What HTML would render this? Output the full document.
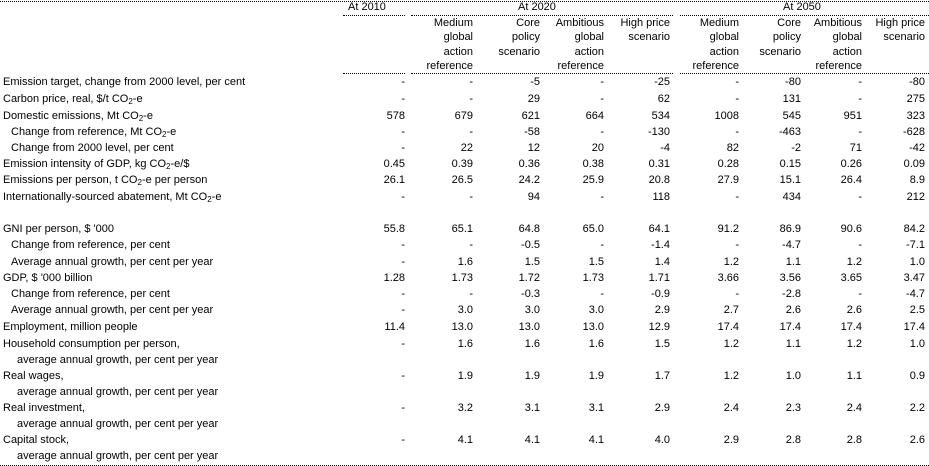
<!DOCTYPE html>
<html><head><meta charset="utf-8"><style>
body{margin:0;background:#fff;}
#w{position:relative;width:929px;height:466px;overflow:hidden;font-family:"Liberation Sans",Arial,sans-serif;font-size:11px;color:#000;}
.r{position:absolute;left:0;width:929px;height:16px;line-height:16px;white-space:nowrap;}
.r span{position:absolute;top:0;}
.l{left:3px}.i{left:11px}.ii{left:17px}
.a{right:524px}.b{right:456px}.c{right:389px}.d{right:325px}.e{right:259px}.f{right:190px}.g{right:128px}.h{right:67px}.k{right:4px}
.dl{position:absolute;height:0;border-top:1px dotted #000;}
sub{font-size:8px;vertical-align:-2px;line-height:0}
</style></head><body><div id="w">
<div class="dl" style="top:1px;left:0;width:929px"></div>
<div class="dl" style="top:15px;left:343px;width:62px"></div>
<div class="dl" style="top:15px;left:411px;width:262px"></div>
<div class="dl" style="top:15px;left:680px;width:249px"></div>
<div class="dl" style="top:73px;left:343px;width:62px"></div>
<div class="dl" style="top:73px;left:411px;width:262px"></div>
<div class="dl" style="top:73px;left:680px;width:249px"></div>
<div class="dl" style="top:465px;left:0;width:929px"></div>

<div class="r" style="top:-1px"><span style="left:348px">At 2010</span><span style="left:518px">At 2020</span><span style="left:783px">At 2050</span></div>
<div class="r" style="top:15px"><span class="b">Medium</span><span class="c">Core</span><span class="d">Ambitious</span><span class="e">High price</span><span class="f">Medium</span><span class="g">Core</span><span class="h">Ambitious</span><span class="k">High price</span></div>
<div class="r" style="top:29px"><span class="b">global</span><span class="c">policy</span><span class="d">global</span><span class="e">scenario</span><span class="f">global</span><span class="g">policy</span><span class="h">global</span><span class="k">scenario</span></div>
<div class="r" style="top:44px"><span class="b">action</span><span class="c">scenario</span><span class="d">action</span><span class="f">action</span><span class="g">scenario</span><span class="h">action</span></div>
<div class="r" style="top:58px"><span class="b">reference</span><span class="d">reference</span><span class="f">reference</span><span class="h">reference</span></div>

<div class="r" style="top:74px"><span class="l">Emission target, change from 2000 level, per cent</span><span class="a">-</span><span class="b">-</span><span class="c">-5</span><span class="d">-</span><span class="e">-25</span><span class="f">-</span><span class="g">-80</span><span class="h">-</span><span class="k">-80</span></div>
<div class="r" style="top:91px"><span class="l">Carbon price, real, $/t CO<sub>2</sub>-e</span><span class="a">-</span><span class="b">-</span><span class="c">29</span><span class="d">-</span><span class="e">62</span><span class="f">-</span><span class="g">131</span><span class="h">-</span><span class="k">275</span></div>
<div class="r" style="top:108px"><span class="l">Domestic emissions, Mt CO<sub>2</sub>-e</span><span class="a">578</span><span class="b">679</span><span class="c">621</span><span class="d">664</span><span class="e">534</span><span class="f">1008</span><span class="g">545</span><span class="h">951</span><span class="k">323</span></div>
<div class="r" style="top:124px"><span class="i">Change from reference, Mt CO<sub>2</sub>-e</span><span class="a">-</span><span class="b">-</span><span class="c">-58</span><span class="d">-</span><span class="e">-130</span><span class="f">-</span><span class="g">-463</span><span class="h">-</span><span class="k">-628</span></div>
<div class="r" style="top:140px"><span class="i">Change from 2000 level, per cent</span><span class="a">-</span><span class="b">22</span><span class="c">12</span><span class="d">20</span><span class="e">-4</span><span class="f">82</span><span class="g">-2</span><span class="h">71</span><span class="k">-42</span></div>
<div class="r" style="top:156px"><span class="l">Emission intensity of GDP, kg CO<sub>2</sub>-e/$</span><span class="a">0.45</span><span class="b">0.39</span><span class="c">0.36</span><span class="d">0.38</span><span class="e">0.31</span><span class="f">0.28</span><span class="g">0.15</span><span class="h">0.26</span><span class="k">0.09</span></div>
<div class="r" style="top:172px"><span class="l">Emissions per person, t CO<sub>2</sub>-e per person</span><span class="a">26.1</span><span class="b">26.5</span><span class="c">24.2</span><span class="d">25.9</span><span class="e">20.8</span><span class="f">27.9</span><span class="g">15.1</span><span class="h">26.4</span><span class="k">8.9</span></div>
<div class="r" style="top:189px"><span class="l">Internationally-sourced abatement, Mt CO<sub>2</sub>-e</span><span class="a">-</span><span class="b">-</span><span class="c">94</span><span class="d">-</span><span class="e">118</span><span class="f">-</span><span class="g">434</span><span class="h">-</span><span class="k">212</span></div>

<div class="r" style="top:221px"><span class="l">GNI per person, $ '000</span><span class="a">55.8</span><span class="b">65.1</span><span class="c">64.8</span><span class="d">65.0</span><span class="e">64.1</span><span class="f">91.2</span><span class="g">86.9</span><span class="h">90.6</span><span class="k">84.2</span></div>
<div class="r" style="top:237px"><span class="i">Change from reference, per cent</span><span class="a">-</span><span class="b">-</span><span class="c">-0.5</span><span class="d">-</span><span class="e">-1.4</span><span class="f">-</span><span class="g">-4.7</span><span class="h">-</span><span class="k">-7.1</span></div>
<div class="r" style="top:254px"><span class="i">Average annual growth, per cent per year</span><span class="a">-</span><span class="b">1.6</span><span class="c">1.5</span><span class="d">1.5</span><span class="e">1.4</span><span class="f">1.2</span><span class="g">1.1</span><span class="h">1.2</span><span class="k">1.0</span></div>
<div class="r" style="top:270px"><span class="l">GDP, $ '000 billion</span><span class="a">1.28</span><span class="b">1.73</span><span class="c">1.72</span><span class="d">1.73</span><span class="e">1.71</span><span class="f">3.66</span><span class="g">3.56</span><span class="h">3.65</span><span class="k">3.47</span></div>
<div class="r" style="top:286px"><span class="i">Change from reference, per cent</span><span class="a">-</span><span class="b">-</span><span class="c">-0.3</span><span class="d">-</span><span class="e">-0.9</span><span class="f">-</span><span class="g">-2.8</span><span class="h">-</span><span class="k">-4.7</span></div>
<div class="r" style="top:302px"><span class="i">Average annual growth, per cent per year</span><span class="a">-</span><span class="b">3.0</span><span class="c">3.0</span><span class="d">3.0</span><span class="e">2.9</span><span class="f">2.7</span><span class="g">2.6</span><span class="h">2.6</span><span class="k">2.5</span></div>
<div class="r" style="top:319px"><span class="l">Employment, million people</span><span class="a">11.4</span><span class="b">13.0</span><span class="c">13.0</span><span class="d">13.0</span><span class="e">12.9</span><span class="f">17.4</span><span class="g">17.4</span><span class="h">17.4</span><span class="k">17.4</span></div>
<div class="r" style="top:336px"><span class="l">Household consumption per person,</span><span class="a">-</span><span class="b">1.6</span><span class="c">1.6</span><span class="d">1.6</span><span class="e">1.5</span><span class="f">1.2</span><span class="g">1.1</span><span class="h">1.2</span><span class="k">1.0</span></div>
<div class="r" style="top:352px"><span class="ii">average annual growth, per cent per year</span></div>
<div class="r" style="top:368px"><span class="l">Real wages,</span><span class="a">-</span><span class="b">1.9</span><span class="c">1.9</span><span class="d">1.9</span><span class="e">1.7</span><span class="f">1.2</span><span class="g">1.0</span><span class="h">1.1</span><span class="k">0.9</span></div>
<div class="r" style="top:384px"><span class="ii">average annual growth, per cent per year</span></div>
<div class="r" style="top:400px"><span class="l">Real investment,</span><span class="a">-</span><span class="b">3.2</span><span class="c">3.1</span><span class="d">3.1</span><span class="e">2.9</span><span class="f">2.4</span><span class="g">2.3</span><span class="h">2.4</span><span class="k">2.2</span></div>
<div class="r" style="top:416px"><span class="ii">average annual growth, per cent per year</span></div>
<div class="r" style="top:432px"><span class="l">Capital stock,</span><span class="a">-</span><span class="b">4.1</span><span class="c">4.1</span><span class="d">4.1</span><span class="e">4.0</span><span class="f">2.9</span><span class="g">2.8</span><span class="h">2.8</span><span class="k">2.6</span></div>
<div class="r" style="top:448px"><span class="ii">average annual growth, per cent per year</span></div>
</div></body></html>
